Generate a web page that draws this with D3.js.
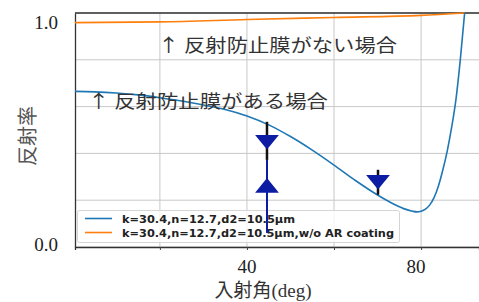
<!DOCTYPE html>
<html>
<head>
    <meta charset="utf-8">
    <title>反射率</title>
    <script src="https://d3js.org/d3.v7.min.js"></script>
    <style>
        body { margin: 0; background: #fff; }
        svg { display: block; }
    </style>
</head>
<body>
    <div id="chart"></div>
    <script>
        // incidence angle (deg) and reflectance
        const angles = [0, 5, 10, 15, 20, 25, 30, 35, 40, 45, 50, 55, 60, 65, 70, 73, 76, 78, 79, 80, 81, 82, 83, 84, 85, 86, 87, 88, 89, 90]
        const rCoated = [0.665, 0.663, 0.658, 0.650, 0.638, 0.624, 0.607, 0.588, 0.560, 0.522, 0.472, 0.414, 0.350, 0.283, 0.222, 0.190, 0.164, 0.153, 0.150, 0.153, 0.162, 0.180, 0.212, 0.262, 0.330, 0.410, 0.510, 0.630, 0.800, 1.0]
        const anglesBare = [0, 20, 40, 60, 80, 90]
        const rBare = [0.959, 0.962, 0.972, 0.981, 0.990, 1.0]

        // measured points: angle, value, error bar low/high
        const measDown = [
            { angle: 44.6, r: 0.458, lo: 0.372, hi: 0.535 },
            { angle: 70.1, r: 0.287, lo: 0.223, hi: 0.330 }
        ]
        const measUp = [
            { angle: 44.6, r: 0.253, lo: 0.06, hi: 0.372 }
        ]

        const legendLabels = ['k=30.4,n=12.7,d2=10.5μm', 'k=30.4,n=12.7,d2=10.5μm,w/o AR coating']
        const xTicks = [20, 40, 60, 80]
        const xTickLabels = [40, 80]
        const yTicks = [0, 0.2, 0.4, 0.6, 0.8, 1.0]
        const yTickLabels = [0.0, 1.0]

        const w = 479, h = 302
        const plot = { left: 75, top: 13, bottom: 247, right: 479 }

        const xScale = d3.scaleLinear().domain([0.5, 93.3]).range([plot.left, plot.right])
        const yScale = d3.scaleLinear().domain([0, 1]).range([plot.bottom, plot.top])

        const svg = d3.select('#chart').append('svg')
            .attr('width', w)
            .attr('height', h)

        svg.append('defs').append('clipPath').attr('id', 'clip')
            .append('rect')
            .attr('x', plot.left).attr('y', plot.top - 1)
            .attr('width', plot.right - plot.left).attr('height', plot.bottom - plot.top + 1)

        // grid
        svg.append('g').selectAll('line.gx')
            .data(xTicks).enter().append('line')
            .attr('x1', d => xScale(d)).attr('x2', d => xScale(d))
            .attr('y1', plot.top).attr('y2', plot.bottom)
            .style('stroke', '#c8c8c8').style('stroke-width', 1)
        svg.append('g').selectAll('line.gy')
            .data(yTicks).enter().append('line')
            .attr('x1', plot.left).attr('x2', plot.right)
            .attr('y1', d => yScale(d)).attr('y2', d => yScale(d))
            .style('stroke', '#c8c8c8').style('stroke-width', 1)

        // axes (ticks only, labels are placed by hand below)
        const xAxis = d3.axisBottom(xScale).tickValues(xTicks).tickSize(3).tickFormat('')
        svg.append('g')
            .attr('id', 'x-axis')
            .attr('transform', 'translate(0,' + plot.bottom + ')')
            .call(xAxis)
            .call(g => g.select('.domain').style('stroke', '#333').style('stroke-width', 1.3))
            .call(g => g.selectAll('.tick line').style('stroke', '#444'))

        const yAxis = d3.axisLeft(yScale).tickValues([]).tickSizeOuter(0)
        svg.append('g')
            .attr('id', 'y-axis')
            .attr('transform', 'translate(' + plot.left + ',0)')
            .call(yAxis)
            .call(g => g.select('.domain').style('stroke', '#333').style('stroke-width', 1.3))

        svg.append('line')
            .attr('x1', plot.left).attr('x2', plot.right)
            .attr('y1', plot.top).attr('y2', plot.top)
            .style('stroke', '#333').style('stroke-width', 1.3)

        // curves
        const line = d3.line()
            .x(d => xScale(d[0]))
            .y(d => yScale(d[1]))
            .curve(d3.curveMonotoneX)

        svg.append('path')
            .datum(d3.zip(anglesBare, rBare))
            .attr('clip-path', 'url(#clip)')
            .attr('d', line)
            .style('fill', 'none').style('stroke', '#ff7f0e').style('stroke-width', 1.6)

        svg.append('path')
            .datum(d3.zip(angles, rCoated))
            .attr('clip-path', 'url(#clip)')
            .attr('d', line)
            .style('fill', 'none').style('stroke', '#1f77b4').style('stroke-width', 1.6)

        // legend
        const leg = svg.append('g')
        leg.append('rect')
            .attr('x', 77.5).attr('y', 210.5)
            .attr('width', 322).attr('height', 32).attr('rx', 2)
            .style('fill', 'rgba(255,255,255,0.8)').style('stroke', '#d5d5d5')
        const legColors = ['#1f77b4', '#ff7f0e']
        const legLens = [173, 272]
        legendLabels.forEach((t, i) => {
            const y = 218.5 + i * 14
            leg.append('line')
                .attr('x1', 85).attr('x2', 112).attr('y1', y).attr('y2', y)
                .style('stroke', legColors[i]).style('stroke-width', 1.6)
            leg.append('text')
                .attr('x', 122).attr('y', y + 4)
                .attr('textLength', legLens[i]).attr('lengthAdjust', 'spacingAndGlyphs')
                .style('font-family', 'DejaVu Sans')
                .style('font-size', '11px')
                .style('font-weight', 'bold')
                .style('fill', '#222')
                .text(t)
        })

        // measured markers
        const navy = '#0c1ca3'
        svg.selectAll('line.up')
            .data(measUp).enter().append('line')
            .attr('x1', d => xScale(d.angle)).attr('x2', d => xScale(d.angle))
            .attr('y1', d => yScale(d.hi)).attr('y2', d => yScale(d.lo))
            .style('stroke', navy).style('stroke-width', 2)
        svg.selectAll('line.err')
            .data(measDown).enter().append('line')
            .attr('x1', d => xScale(d.angle)).attr('x2', d => xScale(d.angle))
            .attr('y1', d => yScale(d.hi)).attr('y2', d => yScale(d.lo))
            .style('stroke', '#111').style('stroke-width', 2.5)

        const tri = d3.symbol().type(d3.symbolTriangle).size(170)
        svg.selectAll('path.tdown')
            .data(measDown).enter().append('path')
            .attr('d', tri)
            .attr('transform', d => 'translate(' + xScale(d.angle) + ',' + yScale(d.r) + ') rotate(180) scale(1.2,0.85)')
            .style('fill', navy)
        svg.selectAll('path.tup')
            .data(measUp).enter().append('path')
            .attr('d', tri)
            .attr('transform', d => 'translate(' + xScale(d.angle) + ',' + yScale(d.r) + ') scale(1.2,0.85)')
            .style('fill', navy)

        // tick labels
        svg.selectAll('text.xl')
            .data(xTickLabels).enter().append('text')
            .attr('x', d => xScale(d) - (d === 80 ? 5 : 0)).attr('y', 273)
            .attr('text-anchor', 'middle')
            .style('font-family', 'Liberation Serif')
            .style('font-size', '19px')
            .style('fill', '#222')
            .text(d => d)
        svg.selectAll('text.yl')
            .data(yTickLabels).enter().append('text')
            .attr('x', 58).attr('y', d => d === 1 ? 29 : 251)
            .attr('text-anchor', 'end')
            .style('font-family', 'Liberation Serif')
            .style('font-size', '19px')
            .style('fill', '#222')
            .text(d => d3.format('.1f')(d))

        // axis titles
        svg.append('text')
            .attr('x', 263).attr('y', 297)
            .attr('text-anchor', 'middle')
            .style('font-family', '"Liberation Serif", "Noto Sans CJK JP"')
            .style('font-size', '19px')
            .style('fill', '#333')
            .text('入射角(deg)')
        svg.append('text')
            .attr('transform', 'translate(35,136) rotate(-90)')
            .attr('text-anchor', 'middle')
            .style('font-family', '"Noto Sans CJK JP"')
            .style('font-size', '20px')
            .style('fill', '#555')
            .text('反射率')

        // annotations
        svg.append('text')
            .attr('x', 158).attr('y', 52)
            .attr('textLength', 239).attr('lengthAdjust', 'spacingAndGlyphs')
            .style('font-family', '"Noto Sans CJK JP"')
            .style('font-size', '18px')
            .style('fill', '#333')
            .text('↑ 反射防止膜がない場合')
        svg.append('text')
            .attr('x', 88).attr('y', 108)
            .attr('textLength', 240).attr('lengthAdjust', 'spacingAndGlyphs')
            .style('font-family', '"Noto Sans CJK JP"')
            .style('font-size', '18px')
            .style('fill', '#333')
            .text('↑ 反射防止膜がある場合')
    </script>
</body>
</html>
